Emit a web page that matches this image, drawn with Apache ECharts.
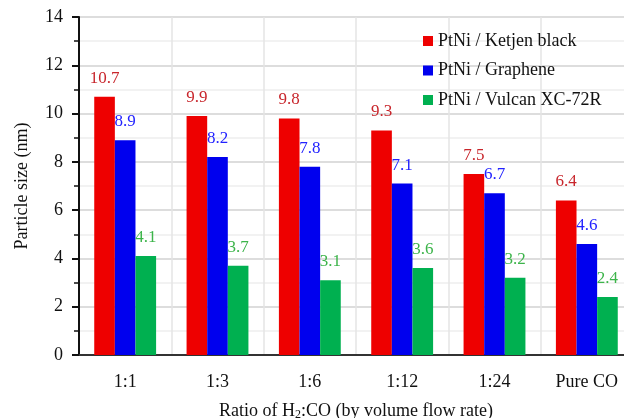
<!DOCTYPE html>
<html>
<head>
<meta charset="utf-8">
<script src="https://cdn.jsdelivr.net/npm/echarts@6/dist/echarts.min.js"></script>
<style>html,body{margin:0;padding:0;background:#fff;overflow:hidden}#c{width:624px;height:418px}</style>
</head>
<body>
<div id="c"></div>
<script>
const categories = ['1:1', '1:3', '1:6', '1:12', '1:24', 'Pure CO'];
const ketjen = [10.7, 9.9, 9.8, 9.3, 7.5, 6.4];
const graphene = [8.9, 8.2, 7.8, 7.1, 6.7, 4.6];
const vulcan = [4.1, 3.7, 3.1, 3.6, 3.2, 2.4];
const seriesNames = ['PtNi / Ketjen black', 'PtNi / Graphene', 'PtNi / Vulcan XC-72R'];

const FONT = 'Liberation Serif';
const chart = echarts.init(document.getElementById('c'));

function bar(name, data, color, labelColor) {
  return {
    name, type: 'bar', data,
    barGap: '0%', barCategoryGap: '33%',
    itemStyle: { color },
    label: { show: true, position: 'top', distance: 10, color: labelColor,
      fontFamily: FONT, fontSize: 17, formatter: p => p.value.toFixed(1) }
  };
}

chart.setOption({
  animation: false,
  textStyle: { fontFamily: FONT },
  grid: { left: 79, top: 17, width: 554, height: 338, outerBoundsMode: 'none', containLabel: false },
  legend: {
    orient: 'vertical', left: 418, top: 27, itemWidth: 10, itemHeight: 10, itemGap: 11.5,
    icon: 'rect', data: seriesNames,
    textStyle: { fontFamily: FONT, fontSize: 18, color: '#111' }
  },
  xAxis: {
    type: 'category', data: categories,
    axisLine: { lineStyle: { color: '#333', width: 2 } },
    axisTick: { show: false },
    axisLabel: { fontFamily: FONT, fontSize: 18, color: '#111', margin: 18 },
    splitLine: { show: true, interval: 0, lineStyle: { color: '#e4e4e4', width: 1.5 } },
    name: 'Ratio of H{sub|2}:CO (by volume flow rate)',
    nameLocation: 'middle', nameGap: 46,
    nameTextStyle: { fontFamily: FONT, fontSize: 18, color: '#111',
      rich: { sub: { fontFamily: FONT, fontSize: 12, color: '#111', verticalAlign: 'bottom', padding: [8, 0, 0, 0] } } }
  },
  yAxis: {
    type: 'value', min: 0, max: 14, interval: 2,
    axisLine: { show: true, lineStyle: { color: '#111', width: 2 } },
    axisTick: { show: true, length: 7, lineStyle: { color: '#111', width: 2 } },
    minorTick: { show: true, splitNumber: 2, length: 5, lineStyle: { color: '#111', width: 1.5 } },
    axisLabel: { fontFamily: FONT, fontSize: 18, color: '#111', margin: 16 },
    splitLine: { show: true, lineStyle: { color: '#d2d2d2', width: 1.5 } },
    minorSplitLine: { show: true, lineStyle: { color: '#eeeeee', width: 1.5 } },
    name: 'Particle size (nm)', nameLocation: 'middle', nameGap: 48,
    nameTextStyle: { fontFamily: FONT, fontSize: 18, color: '#111' }
  },
  series: [
    bar(seriesNames[0], ketjen, '#ee0000', '#c8262c'),
    bar(seriesNames[1], graphene, '#0000ee', '#2222ff'),
    bar(seriesNames[2], vulcan, '#00b050', '#3cb44a')
  ]
});
</script>
</body>
</html>
